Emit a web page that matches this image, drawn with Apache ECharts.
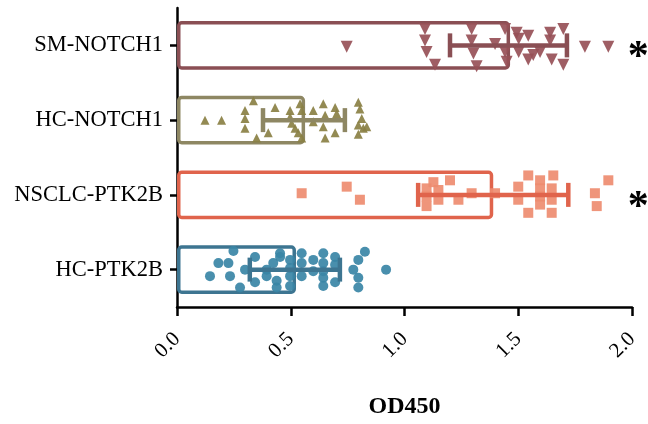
<!DOCTYPE html>
<html>
<head>
<meta charset="utf-8">
<script src="https://cdn.jsdelivr.net/npm/echarts@6/dist/echarts.min.js"></script>
<style>
  html, body { margin: 0; padding: 0; background: #fff; }
  #chart { width: 648px; height: 424px; }
</style>
</head>
<body>
<div id="chart"></div>
<script>
(function () {
  'use strict';

  // 카테고리: 아래 → 위 순서
  const categories = ['HC-PTK2B', 'NSCLC-PTK2B', 'HC-NOTCH1', 'SM-NOTCH1'];
  const means = [0.523, 1.39, 0.563, 1.464];
  const errLow = [0.32, 1.06, 0.378, 1.20];
  const errHigh = [0.716, 1.72, 0.738, 1.714];
  const starred = ['NSCLC-PTK2B', 'SM-NOTCH1'];

  // 개별 점: x 값, 세로 흩어짐(카테고리 단위)
  const hcPtkX = [0.145, 0.182, 0.226, 0.233, 0.248, 0.277, 0.299, 0.343, 0.343, 0.394, 0.394, 0.423, 0.438, 0.438, 0.453, 0.453,
    0.497, 0.497, 0.497, 0.497, 0.548, 0.548, 0.548, 0.599, 0.599, 0.643, 0.643, 0.643, 0.643, 0.643,
    0.695, 0.695, 0.695, 0.775, 0.797, 0.797, 0.797, 0.826, 0.919];
  const hcPtkJ = [-0.087, 0.087, 0.087, -0.087, 0.25, -0.24, 0, 0.17, -0.17, 0, -0.087, 0.087, -0.15, -0.24, 0.22, 0.17,
    0.13, 0.022, -0.087, -0.22, 0.22, 0.087, -0.087, 0.13, -0.022, 0.22, 0.087, -0.022, -0.108, -0.22,
    0.17, 0.065, -0.17, 0, 0.13, -0.108, -0.24, 0.24, 0];

  const nsclcX = [0.548, 0.746, 0.804, 1.097, 1.097, 1.097, 1.127, 1.149, 1.149, 1.20, 1.237, 1.295, 1.398, 1.50, 1.50,
    1.544, 1.544, 1.596, 1.596, 1.596, 1.596, 1.647, 1.647, 1.647, 1.654, 1.837, 1.845, 1.896];
  const nsclcJ = [0.022, 0.11, -0.065, 0.087, -0.022, -0.15, 0.17, 0.065, -0.065, 0.195, -0.065, 0.022, 0.022, 0.11, -0.065,
    0.26, -0.24, 0.195, 0.087, -0.022, -0.13, 0.087, -0.065, -0.24, 0.26, 0.022, -0.15, 0.195];

  const hcNotchX = [0.123, 0.196, 0.299, 0.299, 0.299, 0.336, 0.350, 0.401, 0.431, 0.497, 0.497, 0.504, 0.519, 0.533, 0.548,
    0.541, 0.548, 0.599, 0.599, 0.643, 0.651, 0.643, 0.651, 0.695, 0.702, 0.695, 0.797, 0.804, 0.812, 0.797, 0.819, 0.834, 0.797];
  const hcNotchJ = [0, 0, 0.13, 0.022, -0.108, 0.26, -0.24, -0.17, 0.17, 0.13, 0.043, -0.043, -0.108, -0.17, -0.24,
    0.22, 0.13, 0.13, -0.022, 0.22, 0.065, -0.087, -0.24, 0.17, 0.087, -0.17, 0.24, 0.15, 0.022, -0.065, -0.108, -0.087, -0.19];

  const smX = [0.746, 1.090, 1.090, 1.097, 1.134, 1.295, 1.295, 1.303, 1.317, 1.398, 1.442, 1.442, 1.449, 1.493, 1.502, 1.502,
    1.544, 1.544, 1.566, 1.596, 1.640, 1.640, 1.647, 1.698, 1.698, 1.793, 1.896];
  const smJ = [-0.02, 0.22, 0.065, -0.087, -0.26, 0.22, 0.065, -0.11, -0.28, 0.02, 0.22, -0.087, -0.22, 0.17, 0.087, -0.087,
    0.13, -0.19, -0.13, -0.087, 0.17, 0.065, -0.19, 0.22, -0.26, -0.02, -0.02];

  const barColors = ['#3d7591', '#e0644c', '#8e8763', '#8a4f54'];
  const dotColors = ['#3a85a6', '#ee8c70', '#8a8044', '#975057'];
  const symbols = ['circle', 'rect', 'triangle', 'triangle'];
  const symbolSizes = [10, 10, 9, 12];
  const symbolRotates = [0, 0, 0, 180];
  const pointsX = [hcPtkX, nsclcX, hcNotchX, smX];
  const pointsJ = [hcPtkJ, nsclcJ, hcNotchJ, smJ];

  const FONT = '"Liberation Serif", "Times New Roman", serif';

  const chart = echarts.init(document.getElementById('chart'));

  const scatterSeries = categories.map((c, i) => ({
    type: 'scatter',
    yAxisIndex: 1,
    symbol: symbols[i],
    symbolSize: symbolSizes[i],
    symbolRotate: symbolRotates[i],
    itemStyle: { color: dotColors[i], opacity: 0.92 },
    data: pointsX[i].map((x, k) => [x, i + pointsJ[i][k]]),
    z: 3
  }));

  chart.setOption({
    animation: false,
    grid: { left: 177, right: 16, top: 8, bottom: 109, containLabel: false },
    xAxis: {
      type: 'value', min: 0, max: 2, interval: 0.5,
      name: 'OD450', nameLocation: 'middle', nameGap: 88,
      nameTextStyle: { fontFamily: FONT, fontWeight: 'bold', fontSize: 24, color: '#000' },
      axisLine: { show: true, onZero: false, lineStyle: { color: '#000', width: 2.5 } },
      axisTick: { show: true, length: 9, lineStyle: { color: '#000', width: 2.5 } },
      axisLabel: { rotate: 45, margin: 29, fontFamily: FONT, fontSize: 21, color: '#000', formatter: v => v.toFixed(1) },
      splitLine: { show: false }
    },
    yAxis: [
      {
        type: 'category', data: categories,
        axisLine: { show: true, lineStyle: { color: '#000', width: 2.5 } },
        axisTick: { show: true, alignWithLabel: true, length: 7, lineStyle: { color: '#000', width: 2.5 } },
        axisLabel: { margin: 14, fontFamily: FONT, fontSize: 22.5, color: '#000' }
      },
      { type: 'value', min: -0.5, max: 3.5, show: false }
    ],
    series: [
      {
        type: 'bar',
        barWidth: '65%',
        data: means.map((v, i) => ({
          value: v,
          itemStyle: { color: 'rgba(255,255,255,0)', borderColor: barColors[i], borderWidth: 3.5, borderRadius: 3 }
        })),
        z: 2
      },
      ...scatterSeries,
      {
        type: 'custom',
        yAxisIndex: 1,
        data: categories.map((c, i) => [errLow[i], errHigh[i], i]),
        renderItem: function (params, api) {
          const i = api.value(2);
          const a = api.coord([api.value(0), i]);
          const b = api.coord([api.value(1), i]);
          const h = 12;
          const style = { stroke: barColors[i], lineWidth: 4.5 };
          return {
            type: 'group',
            children: [
              { type: 'line', shape: { x1: a[0], y1: a[1], x2: b[0], y2: b[1] }, style },
              { type: 'line', shape: { x1: a[0], y1: a[1] - h, x2: a[0], y2: a[1] + h }, style },
              { type: 'line', shape: { x1: b[0], y1: b[1] - h, x2: b[0], y2: b[1] + h }, style }
            ]
          };
        },
        z: 4
      },
      {
        // 유의성 표시(*)
        type: 'custom',
        yAxisIndex: 1,
        clip: false,
        data: starred.map(c => [2.027, categories.indexOf(c)]),
        renderItem: function (params, api) {
          const p = api.coord([api.value(0), api.value(1)]);
          return {
            type: 'text',
            x: p[0], y: p[1] + 13,
            style: {
              text: '*', fill: '#000', align: 'center', verticalAlign: 'middle',
              font: 'bold 42px "Liberation Serif", serif'
            }
          };
        },
        z: 5
      }
    ]
  });
})();
</script>
</body>
</html>
